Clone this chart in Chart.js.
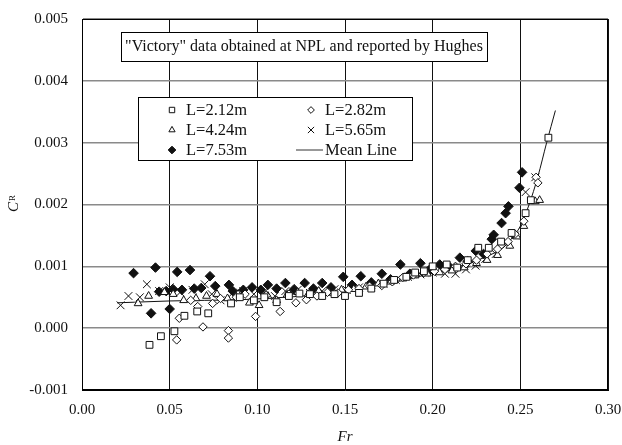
<!DOCTYPE html>
<html>
<head>
<meta charset="utf-8">
<script src="https://cdn.jsdelivr.net/npm/chart.js@4"></script>
<style>
  html, body { margin: 0; padding: 0; background: #fff; }
  #wrap { width: 622px; height: 445px; }
</style>
</head>
<body>
<div id="wrap"><canvas id="crChart" width="622" height="445"></canvas></div>
<script>
// Fr, CR pairs
const l212 = [[0.0385,-0.00027],[0.045,-0.00013],[0.0527,-0.00005],[0.0584,0.0002],[0.0657,0.00027],[0.072,0.00024],
  [0.085,0.0004],[0.09,0.0005],[0.098,0.00045],[0.104,0.0005],[0.111,0.00042],[0.118,0.00052],[0.124,0.00056],
  [0.130,0.00055],[0.137,0.00052],[0.144,0.00055],[0.150,0.00052],[0.158,0.00057],[0.165,0.00064],[0.172,0.00072],
  [0.178,0.00078],[0.185,0.00083],[0.19,0.0009],[0.195,0.00092],[0.2,0.001],[0.208,0.00103],[0.214,0.00098],
  [0.22,0.0011],[0.226,0.0013],[0.232,0.0013],[0.239,0.0014],[0.245,0.00154],[0.253,0.00186],[0.256,0.00207],
  [0.266,0.00308]];
const l282 = [[0.054,-0.00019],[0.0555,0.00016],[0.062,0.00045],[0.066,0.00035],[0.069,0.00002],[0.0745,0.0004],
  [0.079,0.00048],[0.0835,-0.00004],[0.0835,-0.00016],[0.088,0.0005],[0.093,0.00055],[0.099,0.00019],[0.105,0.00053],
  [0.113,0.00027],[0.118,0.00055],[0.122,0.00041],[0.128,0.00046],[0.134,0.00052],[0.140,0.00058],[0.146,0.00057],
  [0.152,0.00062],[0.158,0.00064],[0.164,0.00068],[0.171,0.00069],[0.177,0.00075],[0.183,0.00082],[0.189,0.00086],
  [0.195,0.0009],[0.201,0.00092],[0.207,0.00095],[0.213,0.001],[0.219,0.00104],[0.225,0.0011],[0.231,0.0012],
  [0.237,0.00128],[0.243,0.0014],[0.247,0.00152],[0.252,0.00173],[0.259,0.00244],[0.26,0.00235]];
const l424 = [[0.032,0.0004],[0.038,0.00052],[0.047,0.00058],[0.052,0.00055],[0.058,0.00045],[0.065,0.00048],
  [0.071,0.00052],[0.077,0.00055],[0.083,0.00048],[0.089,0.00055],[0.0955,0.00041],[0.101,0.00037],[0.106,0.00052],
  [0.111,0.00045],[0.117,0.00054],[0.123,0.00058],[0.129,0.00055],[0.135,0.0006],[0.141,0.00057],[0.148,0.00062],
  [0.155,0.00063],[0.162,0.00067],[0.169,0.00072],[0.176,0.00075],[0.183,0.0008],[0.19,0.00085],[0.197,0.00088],
  [0.204,0.0009],[0.211,0.00093],[0.218,0.00098],[0.225,0.00105],[0.231,0.0011],[0.237,0.00118],[0.244,0.00133],
  [0.248,0.00148],[0.252,0.00165],[0.2585,0.00205],[0.261,0.00207]];
const l565 = [[0.022,0.00037],[0.0265,0.00052],[0.033,0.0005],[0.037,0.00071],[0.044,0.0006],[0.050,0.00066],
  [0.056,0.00058],[0.063,0.00062],[0.070,0.00071],[0.074,0.00055],[0.079,0.00045],[0.086,0.00057],[0.092,0.0006],
  [0.098,0.00055],[0.104,0.00058],[0.11,0.00052],[0.116,0.0006],[0.123,0.00062],[0.13,0.00057],[0.137,0.0006],
  [0.144,0.00063],[0.151,0.00062],[0.158,0.00066],[0.165,0.0007],[0.172,0.00072],[0.179,0.00078],[0.186,0.00083],
  [0.193,0.00087],[0.2,0.0009],[0.207,0.00088],[0.213,0.00088],[0.219,0.00095],[0.2245,0.00101],[0.23,0.00112],
  [0.236,0.0012],[0.242,0.00135],[0.247,0.0015],[0.253,0.0022],[0.2585,0.00244]];
const l753 = [[0.0294,0.00089],[0.0394,0.00024],[0.0419,0.00098],[0.044,0.00059],[0.048,0.0006],[0.050,0.00031],
  [0.052,0.00063],[0.0543,0.00091],[0.057,0.00062],[0.0616,0.00094],[0.064,0.00064],[0.068,0.00065],[0.073,0.00084],
  [0.076,0.00068],[0.0838,0.0007],[0.086,0.0006],[0.092,0.00062],[0.097,0.00066],[0.102,0.00062],[0.106,0.0007],
  [0.111,0.00064],[0.116,0.00073],[0.121,0.00063],[0.127,0.00073],[0.132,0.00064],[0.137,0.00073],[0.142,0.00066],
  [0.149,0.00083],[0.154,0.0007],[0.159,0.00084],[0.165,0.00074],[0.171,0.00088],[0.176,0.00079],[0.1816,0.00103],
  [0.187,0.00088],[0.193,0.00105],[0.198,0.00094],[0.204,0.00103],[0.21,0.00098],[0.2155,0.00114],[0.22,0.00108],
  [0.2246,0.00125],[0.229,0.0012],[0.2337,0.00144],[0.2348,0.00151],[0.2393,0.0017],[0.2416,0.00186],
  [0.2432,0.00197],[0.246,0.00152],[0.2495,0.00227],[0.251,0.00252]];
const meanLine = [[0.020,0.00041],[0.03,0.00042],[0.05,0.00044],[0.07,0.00045],[0.09,0.00046],[0.11,0.00049],
  [0.13,0.00053],[0.15,0.00061],[0.17,0.0007],[0.19,0.00082],[0.21,0.00096],[0.22,0.00104],[0.23,0.00115],
  [0.24,0.0013],[0.245,0.00145],[0.25,0.00165],[0.255,0.002],[0.26,0.00245],[0.265,0.003],[0.27,0.00352]];

const xTicks = [0, 0.05, 0.10, 0.15, 0.20, 0.25, 0.30];
const yTicks = [-0.001, 0, 0.001, 0.002, 0.003, 0.004, 0.005];
const seriesNames = ["L=2.12m", "L=2.82m", "L=4.24m", "L=5.65m", "L=7.53m", "Mean Line"];
const titleText = '"Victory" data obtained at NPL and reported by Hughes';

const serif = "'Liberation Serif', 'DejaVu Serif', serif";
const toXY = (arr) => arr.map((p) => ({ x: p[0], y: p[1] }));

const markers = [
  { pointStyle: "rect", radius: 4.8, fill: "#fff" },
  { pointStyle: "rectRot", radius: 4.2, fill: "#fff" },
  { pointStyle: "triangle", radius: 4.5, fill: "#fff" },
  { pointStyle: "crossRot", radius: 5.5, fill: "#fff" },
  { pointStyle: "rectRot", radius: 4.8, fill: "#111" },
];

// title box, legend box, frame and axis titles
const overlayPlugin = {
  id: "overlay",
  afterDatasetsDraw(chart) {
    const ctx = chart.ctx;
    const area = chart.chartArea;
    ctx.save();
    ctx.strokeStyle = "#000";
    ctx.lineWidth = 1;
    ctx.strokeRect(area.left + 0.5, area.top + 0.5, area.right - area.left - 1, area.bottom - area.top - 1);

    // title box
    ctx.fillStyle = "#fff";
    ctx.fillRect(121, 32, 366, 29);
    ctx.strokeRect(121.5, 32.5, 366, 29);
    ctx.fillStyle = "#111";
    ctx.font = "16px " + serif;
    ctx.textAlign = "center";
    ctx.textBaseline = "middle";
    ctx.fillText(titleText, 304, 47);

    // legend box
    ctx.fillStyle = "#fff";
    ctx.fillRect(138, 97, 274, 63);
    ctx.strokeRect(138.5, 97.5, 274, 63);
    ctx.textAlign = "left";
    ctx.font = "16.5px " + serif;
    const cols = [{ mx: 172, tx: 186 }, { mx: 311, tx: 325 }];
    const rows = [110, 130, 150];
    seriesNames.forEach((name, i) => {
      const c = cols[i % 2];
      const y = rows[Math.floor(i / 2)];
      if (i < 5) {
        const m = markers[i];
        ctx.fillStyle = m.fill;
        ctx.strokeStyle = "#111";
        ctx.lineWidth = 1;
        Chart.helpers.drawPoint(ctx, {
          pointStyle: m.pointStyle, radius: m.radius * 0.8, rotation: 0, borderWidth: 1,
        }, c.mx, y);
      } else {
        ctx.beginPath();
        ctx.moveTo(c.mx - 15, y);
        ctx.lineTo(c.mx + 12, y);
        ctx.strokeStyle = "#333";
        ctx.lineWidth = 1;
        ctx.stroke();
      }
      ctx.fillStyle = "#111";
      ctx.fillText(name, c.tx, y + 1);
    });

    // axis titles
    ctx.font = "italic 15px " + serif;
    ctx.textAlign = "center";
    ctx.fillText("Fr", 345, 437);
    ctx.translate(14, 203);
    ctx.rotate(-Math.PI / 2);
    ctx.textAlign = "left";
    ctx.fillText("C", -9, 0);
    ctx.font = "9px " + serif;
    ctx.fillText("R", 2, -1);
    ctx.restore();
  },
};

const scatterSets = [l212, l282, l424, l565, l753].map((data, i) => ({
  label: seriesNames[i],
  data: toXY(data),
  pointStyle: markers[i].pointStyle,
  pointRadius: markers[i].radius,
  pointBackgroundColor: markers[i].fill,
  pointBorderColor: "#111",
  pointBorderWidth: 1,
  showLine: false,
  order: 1,
}));

const ctx = document.getElementById("crChart").getContext("2d");
new Chart(ctx, {
  type: "scatter",
  data: {
    datasets: [
      {
        label: seriesNames[5],
        data: toXY(meanLine),
        showLine: true,
        pointRadius: 0,
        borderColor: "#111",
        borderWidth: 1,
        cubicInterpolationMode: "monotone",
        order: 2,
      },
      ...scatterSets,
    ],
  },
  options: {
    responsive: false,
    animation: false,
    layout: { padding: { top: 19, right: 14, left: 0, bottom: 0 } },
    plugins: {
      legend: { display: false },
      tooltip: { enabled: false },
    },
    scales: {
      x: {
        type: "linear",
        min: 0,
        max: 0.3,
        afterFit: (scale) => {
          scale.height = 55;
          scale.paddingLeft = 0;
          scale.paddingRight = 0;
        },
        afterBuildTicks: (scale) => { scale.ticks = xTicks.map((v) => ({ value: v })); },
        ticks: {
          padding: 11,
          color: "#111",
          font: { family: serif, size: 15 },
          callback: (v) => v.toFixed(2),
        },
        grid: { color: "#111", lineWidth: 1, drawTicks: false },
        border: { color: "#000", width: 1 },
      },
      y: {
        type: "linear",
        min: -0.001,
        max: 0.005,
        afterFit: (scale) => {
          scale.width = 82;
          scale.paddingTop = 0;
          scale.paddingBottom = 0;
        },
        afterBuildTicks: (scale) => { scale.ticks = yTicks.map((v) => ({ value: v })); },
        ticks: {
          padding: 14,
          color: "#111",
          font: { family: serif, size: 15 },
          callback: (v) => v.toFixed(3),
        },
        grid: { color: "#8a8a8a", lineWidth: 1.5, drawTicks: false },
        border: { color: "#000", width: 1 },
      },
    },
  },
  plugins: [overlayPlugin],
});
</script>
</body>
</html>
